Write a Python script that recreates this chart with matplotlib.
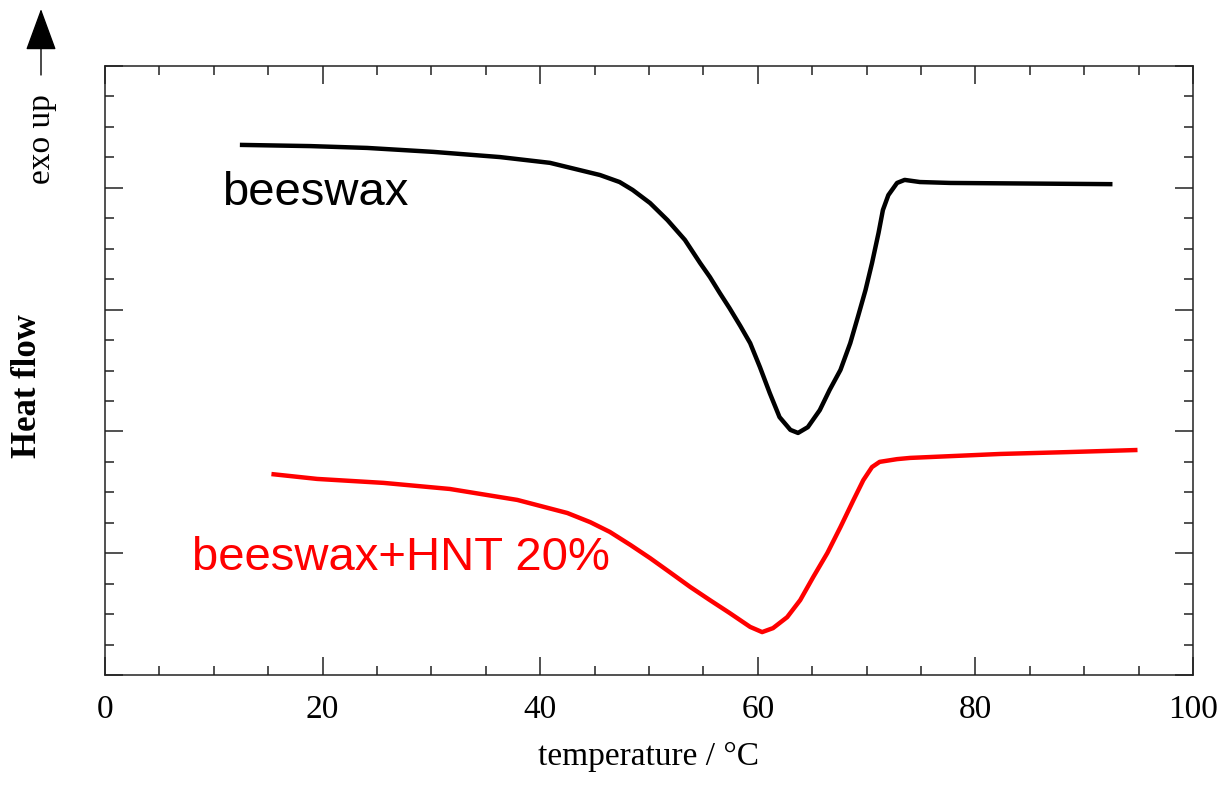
import matplotlib

matplotlib.use("Agg")
import matplotlib.pyplot as plt
from matplotlib.patches import FancyArrowPatch
from matplotlib.ticker import MultipleLocator, NullFormatter

# DSC traces
beeswax_temp = [12.4, 18.9, 24.1, 30.2, 36.3, 40.9, 45.5, 47.3, 48.5, 50.1, 51.7,
                53.3, 54.7, 55.6, 56.5, 57.4, 58.4, 59.3, 60.2, 61.1, 62.0, 63.0,
                63.7, 64.6, 65.7, 66.6, 67.6, 68.5, 69.2, 69.9, 70.5, 71.1, 71.5,
                72.0, 72.8, 73.5, 74.9, 77.7, 92.6]
beeswax_flow = [17.41, 17.37, 17.31, 17.18, 17.01, 16.82, 16.42, 16.19, 15.93, 15.50,
                14.94, 14.29, 13.53, 13.07, 12.55, 12.05, 11.46, 10.90, 10.11, 9.26,
                8.47, 8.05, 7.95, 8.14, 8.70, 9.36, 10.02, 10.90, 11.76, 12.64,
                13.53, 14.52, 15.27, 15.76, 16.16, 16.26, 16.19, 16.16, 16.12]

hnt_temp = [15.3, 19.5, 25.6, 31.7, 37.9, 42.5, 44.6, 46.4, 48.3, 50.1, 51.9, 53.8,
            55.6, 57.4, 59.3, 60.4, 61.4, 62.7, 63.9, 65.1, 66.4, 67.6, 68.8, 69.7,
            70.5, 71.2, 72.8, 74.0, 82.3, 88.4, 94.9]
hnt_flow = [6.60, 6.44, 6.31, 6.11, 5.75, 5.32, 5.02, 4.70, 4.27, 3.84, 3.38, 2.89,
            2.46, 2.04, 1.58, 1.41, 1.54, 1.90, 2.46, 3.22, 4.01, 4.86, 5.75, 6.40,
            6.83, 7.00, 7.09, 7.13, 7.26, 7.32, 7.39]

x_ticks = [0, 20, 40, 60, 80, 100]

serif = ["Liberation Serif", "DejaVu Serif"]
sans = ["Liberation Sans", "DejaVu Sans"]

fig = plt.figure(figsize=(12.29, 7.85), dpi=100)
ax = fig.add_axes([0.0854, 0.1401, 0.8853, 0.7758])

ax.plot(beeswax_temp, beeswax_flow, color="black", lw=3.2,
        solid_capstyle="butt", solid_joinstyle="round")
ax.plot(hnt_temp, hnt_flow, color="#ff0000", lw=3.2,
        solid_capstyle="butt", solid_joinstyle="round")

ax.set_xlim(0, 100)
ax.set_ylim(0, 20)
ax.set_xticks(x_ticks)
ax.xaxis.set_minor_locator(MultipleLocator(5))
ax.yaxis.set_major_locator(MultipleLocator(4))
ax.yaxis.set_minor_locator(MultipleLocator(1))
ax.yaxis.set_major_formatter(NullFormatter())

ax.tick_params(which="both", direction="in", top=True, right=True, colors="#222222")
ax.tick_params(which="major", length=13, width=1.1)
ax.tick_params(which="minor", length=6.5, width=1.1)
ax.tick_params(axis="x", which="major", pad=14, labelsize=24, labelcolor="black")
for lab in ax.get_xticklabels():
    lab.set_family(serif)
for side in ax.spines.values():
    side.set_linewidth(1.1)
    side.set_color("#222222")

ax.set_xlabel("temperature / °C", family=serif, fontsize=24, labelpad=12)

ax.text(10.8, 15.45, "beeswax", family=sans, fontsize=34, color="black")
ax.text(8.0, 3.45, "beeswax+HNT 20%", family=sans, fontsize=34, color="#ff0000")

fig.text(27 / 1229, 1 - 386 / 785, "Heat flow", family=serif, fontsize=25,
         fontweight="bold", rotation=90, ha="center", va="center")
fig.text(42 / 1229, 1 - 139 / 785, "exo up", family=serif, fontsize=24,
         rotation=90, ha="center", va="center")
fig.add_artist(FancyArrowPatch(
    (41 / 1229, 1 - 75 / 785), (41 / 1229, 1 - 9 / 785),
    transform=fig.transFigure, arrowstyle="-|>,head_length=1.5,head_width=0.55",
    mutation_scale=18, color="black", lw=1.0, shrinkA=0, shrinkB=0))

fig.savefig("out.png", dpi=100)
